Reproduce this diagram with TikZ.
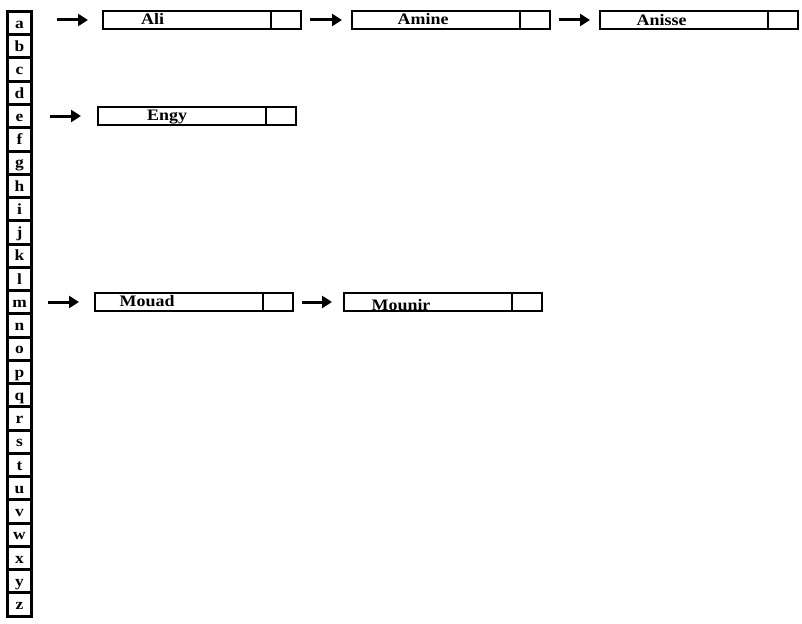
\documentclass[tikz,border=0pt]{standalone}
\usepackage{fontspec}
\setmainfont{Liberation Serif}[FakeStretch=1.12]
\usetikzlibrary{positioning,arrows.meta}

\begin{document}
\begin{tikzpicture}[x=1pt,y=-1pt,
letter/.style = {draw, line width=3pt, minimum width=24pt, minimum height=23.25pt, inner sep=0pt, outer sep=0pt, font=\fontsize{15.5}{15.5}\selectfont\bfseries, text height=10.5pt, text depth=-1.5pt},
cell/.style = {draw, line width=2pt, minimum width=168pt, minimum height=18pt, inner sep=0pt, outer sep=0pt},
ptr/.style = {cell, minimum width=30pt},
who/.style = {inner sep=0pt, anchor=base west, font=\fontsize{16}{16}\selectfont\bfseries},
arr/.style = {line width=3pt, -{Triangle[length=10pt,width=12pt]}}]
\useasboundingbox (0,0) rectangle (802,623);
% the letter table
\foreach \l [count=\i] in {a,...,z}
  \node[letter] (\l) at (19.5, {11.5+23.25*(\i-0.5)}) {\l};
% list of a
\node[cell] (ali) at (187,20) {};
\node[ptr] (alip) [right=0pt of ali] {};
\node[cell] (amine) [right=51pt of alip] {};
\node[ptr] (aminep) [right=0pt of amine] {};
\node[cell] (anisse) [right=50pt of aminep] {};
\node[ptr] (anissep) [right=0pt of anisse] {};
\node[who] (aliT) at ([xshift=38pt,yshift=-4.7pt]ali.west) {Ali};
\node[who] (amineT) at ([xshift=45.5pt,yshift=-4.7pt]amine.west) {Amine};
\node[who] (anisseT) at ([xshift=36.5pt,yshift=-5.5pt]anisse.west) {Anisse};
% list of e
\node[cell] (engy) at (181.5,116) {};
\node[ptr] (engyp) [right=0pt of engy] {};
\node[who] (engyT) at ([xshift=49.5pt,yshift=-5pt]engy.west) {Engy};
% list of m
\node[cell] (mouad) at (179,302) {};
\node[ptr] (mouadp) [right=0pt of mouad] {};
\node[cell] (mounir) [right=51pt of mouadp] {};
\node[ptr] (mounirp) [right=0pt of mounir] {};
\node[who] (mouadT) at ([xshift=24.5pt,yshift=-4pt]mouad.west) {Mouad};
\node[who] (mounirT) at ([xshift=27.5pt,yshift=-8pt]mounir.west) {Mounir};
\draw[arr, shorten <=25.5pt, shorten >=15pt] (a.east |- ali) -- (ali);
\draw[arr, shorten <=9pt, shorten >=10pt] (alip) -- (amine);
\draw[arr, shorten <=9pt, shorten >=10pt] (aminep) -- (anisse);
\draw[arr, shorten <=18.5pt, shorten >=16.5pt] (e.east |- engy) -- (engy);
\draw[arr, shorten <=16.5pt, shorten >=16pt] (m.east |- mouad) -- (mouad);
\draw[arr, shorten <=9pt, shorten >=12pt] (mouadp) -- (mounir);
\end{tikzpicture}
\end{document}
